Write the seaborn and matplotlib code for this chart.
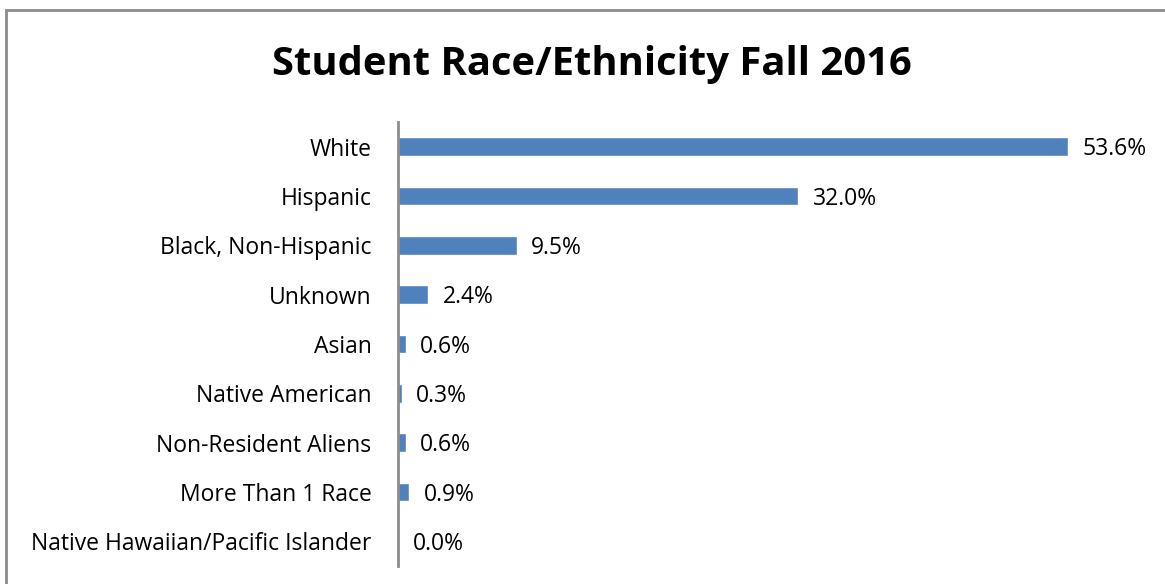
import matplotlib
matplotlib.use("Agg")
import matplotlib.pyplot as plt
import seaborn as sns
import pandas as pd
from matplotlib.patches import Rectangle

categorias = ["White", "Hispanic", "Black, Non-Hispanic", "Unknown", "Asian",
              "Native American", "Non-Resident Aliens", "More Than 1 Race",
              "Native Hawaiian/Pacific Islander"]
percentuais = [53.6, 32.0, 9.5, 2.4, 0.6, 0.3, 0.6, 0.9, 0.0]

df = pd.DataFrame({"Raca": categorias, "Pct": percentuais})

sns.set_style("white")
plt.rcParams["font.family"] = ["Open Sans", "DejaVu Sans"]
plt.rcParams["text.color"] = "black"
plt.rcParams["ytick.color"] = "black"

fig = plt.figure(figsize=(11.65, 5.84), dpi=100)
ax = fig.add_axes([398 / 1165, 1 - 566 / 584, 750 / 1165, 444 / 584])

sns.barplot(x="Pct", y="Raca", data=df, orient="h", color="#4F81BD",
            width=0.38, saturation=1, ax=ax)

# rótulos de valor um pouco abaixo do centro da barra, como no original
for i, v in enumerate(percentuais):
    ax.annotate(f"{v:.1f}%", xy=(v, i), xytext=(10.5, -2),
                textcoords="offset points", ha="left", va="center",
                fontsize=16.5, color="black")

ax.set_xlim(0, 60)
ax.set_xlabel("")
ax.set_ylabel("")
ax.set_xticks([])
ax.tick_params(axis="y", length=0, pad=19, labelsize=16.5)
for s in ["top", "right", "bottom"]:
    ax.spines[s].set_visible(False)
ax.spines["left"].set_color("#8c8c8c")
ax.spines["left"].set_linewidth(2)

fig.text(592 / 1165, 1 - 64 / 584, "Student Race/Ethnicity Fall 2016",
         ha="center", va="center", fontsize=28.8, fontweight="bold", color="black")

# moldura cinza
fig.patches.append(Rectangle((6 / 1165, -0.1), 1.2, 1.1 - 10 / 584,
                             transform=fig.transFigure, fill=False,
                             edgecolor="#8c8c8c", linewidth=2))

fig.savefig("out.png", dpi=100)
